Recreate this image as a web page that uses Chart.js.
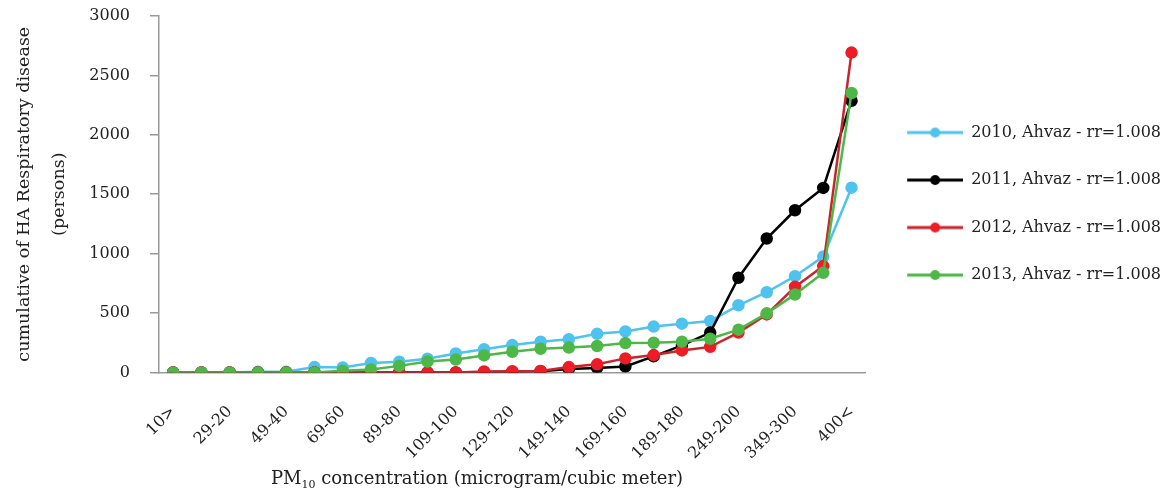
<!DOCTYPE html>
<html>
<head>
<meta charset="utf-8">
<script src="https://cdn.jsdelivr.net/npm/chart.js@4.4.1/dist/chart.umd.min.js"></script>
<style>
  html, body { margin: 0; padding: 0; background: #fff; }
  #wrap { width: 1168px; height: 495px; position: relative; }
</style>
</head>
<body>
<div id="wrap"><canvas id="haChart"></canvas></div>
<script>
const categories = ['10>', '19-10', '29-20', '39-30', '49-40', '59-50', '69-60', '79-70', '89-80', '99-90',
                    '109-100', '119-110', '129-120', '139-130', '149-140', '159-150', '169-160', '179-170',
                    '189-180', '199-190', '249-200', '299-250', '349-300', '399-350', '400<'];

const ahvaz2010 = [0, 0, 0, 5, 5, 45, 42, 80, 90, 115, 160, 195, 230, 259, 279, 325, 345, 386, 410, 432, 565, 675, 810, 975, 1555];
const ahvaz2011 = [0, 0, 0, 0, 0, 0, 0, 0, 0, 0, 0, 2, 5, 10, 28, 38, 50, 135, 228, 335, 797, 1127, 1365, 1553, 2287];
const ahvaz2012 = [0, 0, 0, 0, 0, 0, 0, 0, 0, 0, 0, 8, 10, 12, 45, 68, 118, 146, 185, 215, 335, 488, 720, 895, 2692];
const ahvaz2013 = [0, 0, 0, 0, 0, 0, 14, 25, 55, 92, 108, 143, 174, 199, 209, 222, 247, 250, 259, 283, 360, 497, 656, 838, 2352];

const seriesLabels = ['2010, Ahvaz - rr=1.008', '2011, Ahvaz - rr=1.008', '2012, Ahvaz - rr=1.008', '2013, Ahvaz - rr=1.008'];
const yTicks = [0, 500, 1000, 1500, 2000, 2500, 3000];

const FONT = "'DejaVu Serif', serif";
const TXT = '#222';

const lineColors = ['#4fc3ee', '#000000', '#c8252b', '#4db848'];
const dotColors  = ['#4fc3ee', '#000000', '#ee1c25', '#4db848'];

// line + dot image for the legend; blank strip on the left keeps the legend off the plot
function legendMark(lineColor, dotColor) {
    const c = document.createElement('canvas');
    c.width = 66; c.height = 12;
    const g = c.getContext('2d');
    g.strokeStyle = lineColor;
    g.lineWidth = 3;
    g.beginPath(); g.moveTo(10, 6); g.lineTo(66, 6); g.stroke();
    g.fillStyle = dotColor;
    g.beginPath(); g.arc(38, 6, 5, 0, Math.PI * 2); g.fill();
    return c;
}
const legendMarks = lineColors.map((c, i) => legendMark(c, dotColors[i]));

function series(i, data, order) {
    return {
        label: seriesLabels[i], data, order,
        borderColor: lineColors[i],
        backgroundColor: dotColors[i],
        pointBackgroundColor: dotColors[i],
        pointBorderColor: dotColors[i],
        pointStyle: 'circle',
        pointRadius: 5,
        pointHoverRadius: 5,
        borderWidth: 2.5,
        tension: 0,
        fill: false
    };
}

// x axis title with a real subscript
const xTitle = {
    id: 'xTitle',
    afterDraw(chart) {
        const { ctx, chartArea } = chart;
        const big = '18px ' + FONT, small = '11px ' + FONT;
        const a = 'PM', sub = '10', b = ' concentration (microgram/cubic meter)';
        ctx.save();
        ctx.fillStyle = TXT;
        ctx.textBaseline = 'alphabetic';
        ctx.font = big;
        const wa = ctx.measureText(a).width, wb = ctx.measureText(b).width;
        ctx.font = small;
        const ws = ctx.measureText(sub).width;
        let x = chartArea.left + chartArea.width * 0.45 - (wa + ws + wb) / 2;
        const y = 484;
        ctx.textAlign = 'left';
        ctx.font = big; ctx.fillText(a, x, y); x += wa;
        ctx.font = small; ctx.fillText(sub, x, y + 4); x += ws;
        ctx.font = big; ctx.fillText(b, x, y);
        ctx.restore();
    }
};

new Chart(document.getElementById('haChart'), {
    type: 'line',
    data: {
        labels: categories,
        datasets: [
            series(0, ahvaz2010, 3),
            series(1, ahvaz2011, 2),
            series(2, ahvaz2012, 1),
            series(3, ahvaz2013, 0)
        ]
    },
    options: {
        responsive: true,
        maintainAspectRatio: false,
        animation: false,
        layout: { padding: { top: 16, right: -3, bottom: 2, left: 0 } },
        plugins: {
            legend: {
                position: 'right',
                fullSize: false,
                align: 'center',
                maxWidth: 400,
                title: { display: true, text: ' ', font: { size: 1 }, padding: 9 },
                labels: {
                    usePointStyle: true,
                    pointStyleWidth: 66,
                    padding: 31.5,
                    color: TXT,
                    font: { family: FONT, size: 16 },
                    sort: (a, b) => a.datasetIndex - b.datasetIndex,
                    generateLabels: chart => Chart.defaults.plugins.legend.labels.generateLabels(chart)
                        .map(item => ({ ...item, pointStyle: legendMarks[item.datasetIndex] }))
                }
            },
            tooltip: { enabled: false }
        },
        scales: {
            x: {
                offset: true,
                grid: { display: true, drawOnChartArea: false, drawTicks: false, offset: false, color: '#999' },
                border: { display: true, color: '#999', width: 1.5 },
                ticks: {
                    autoSkip: false,
                    maxRotation: 45,
                    minRotation: 45,
                    padding: 30,
                    color: TXT,
                    font: { family: FONT, size: 16 },
                    callback: function (val, i) { return i % 2 === 0 ? this.getLabelForValue(val) : ''; }
                }
            },
            y: {
                min: 0,
                max: 3000,
                afterBuildTicks: axis => { axis.ticks = yTicks.map(v => ({ value: v })); },
                afterFit: axis => { axis.width = 159; axis.paddingTop = 0; axis.paddingBottom = 0; },
                grid: { display: true, drawOnChartArea: false, tickLength: 9, color: '#999', lineWidth: 1.5 },
                border: { display: true, color: '#999', width: 1.5 },
                ticks: {
                    padding: 20,
                    color: TXT,
                    font: { family: FONT, size: 16 },
                    callback: v => String(v)
                },
                title: {
                    display: true,
                    text: ['cumulative of HA Respiratory disease', '(persons)'],
                    color: TXT,
                    font: { family: FONT, size: 17.5, lineHeight: 2 },
                    padding: { top: 6.5, bottom: 0 }
                }
            }
        }
    },
    plugins: [xTitle]
});
</script>
</body>
</html>
